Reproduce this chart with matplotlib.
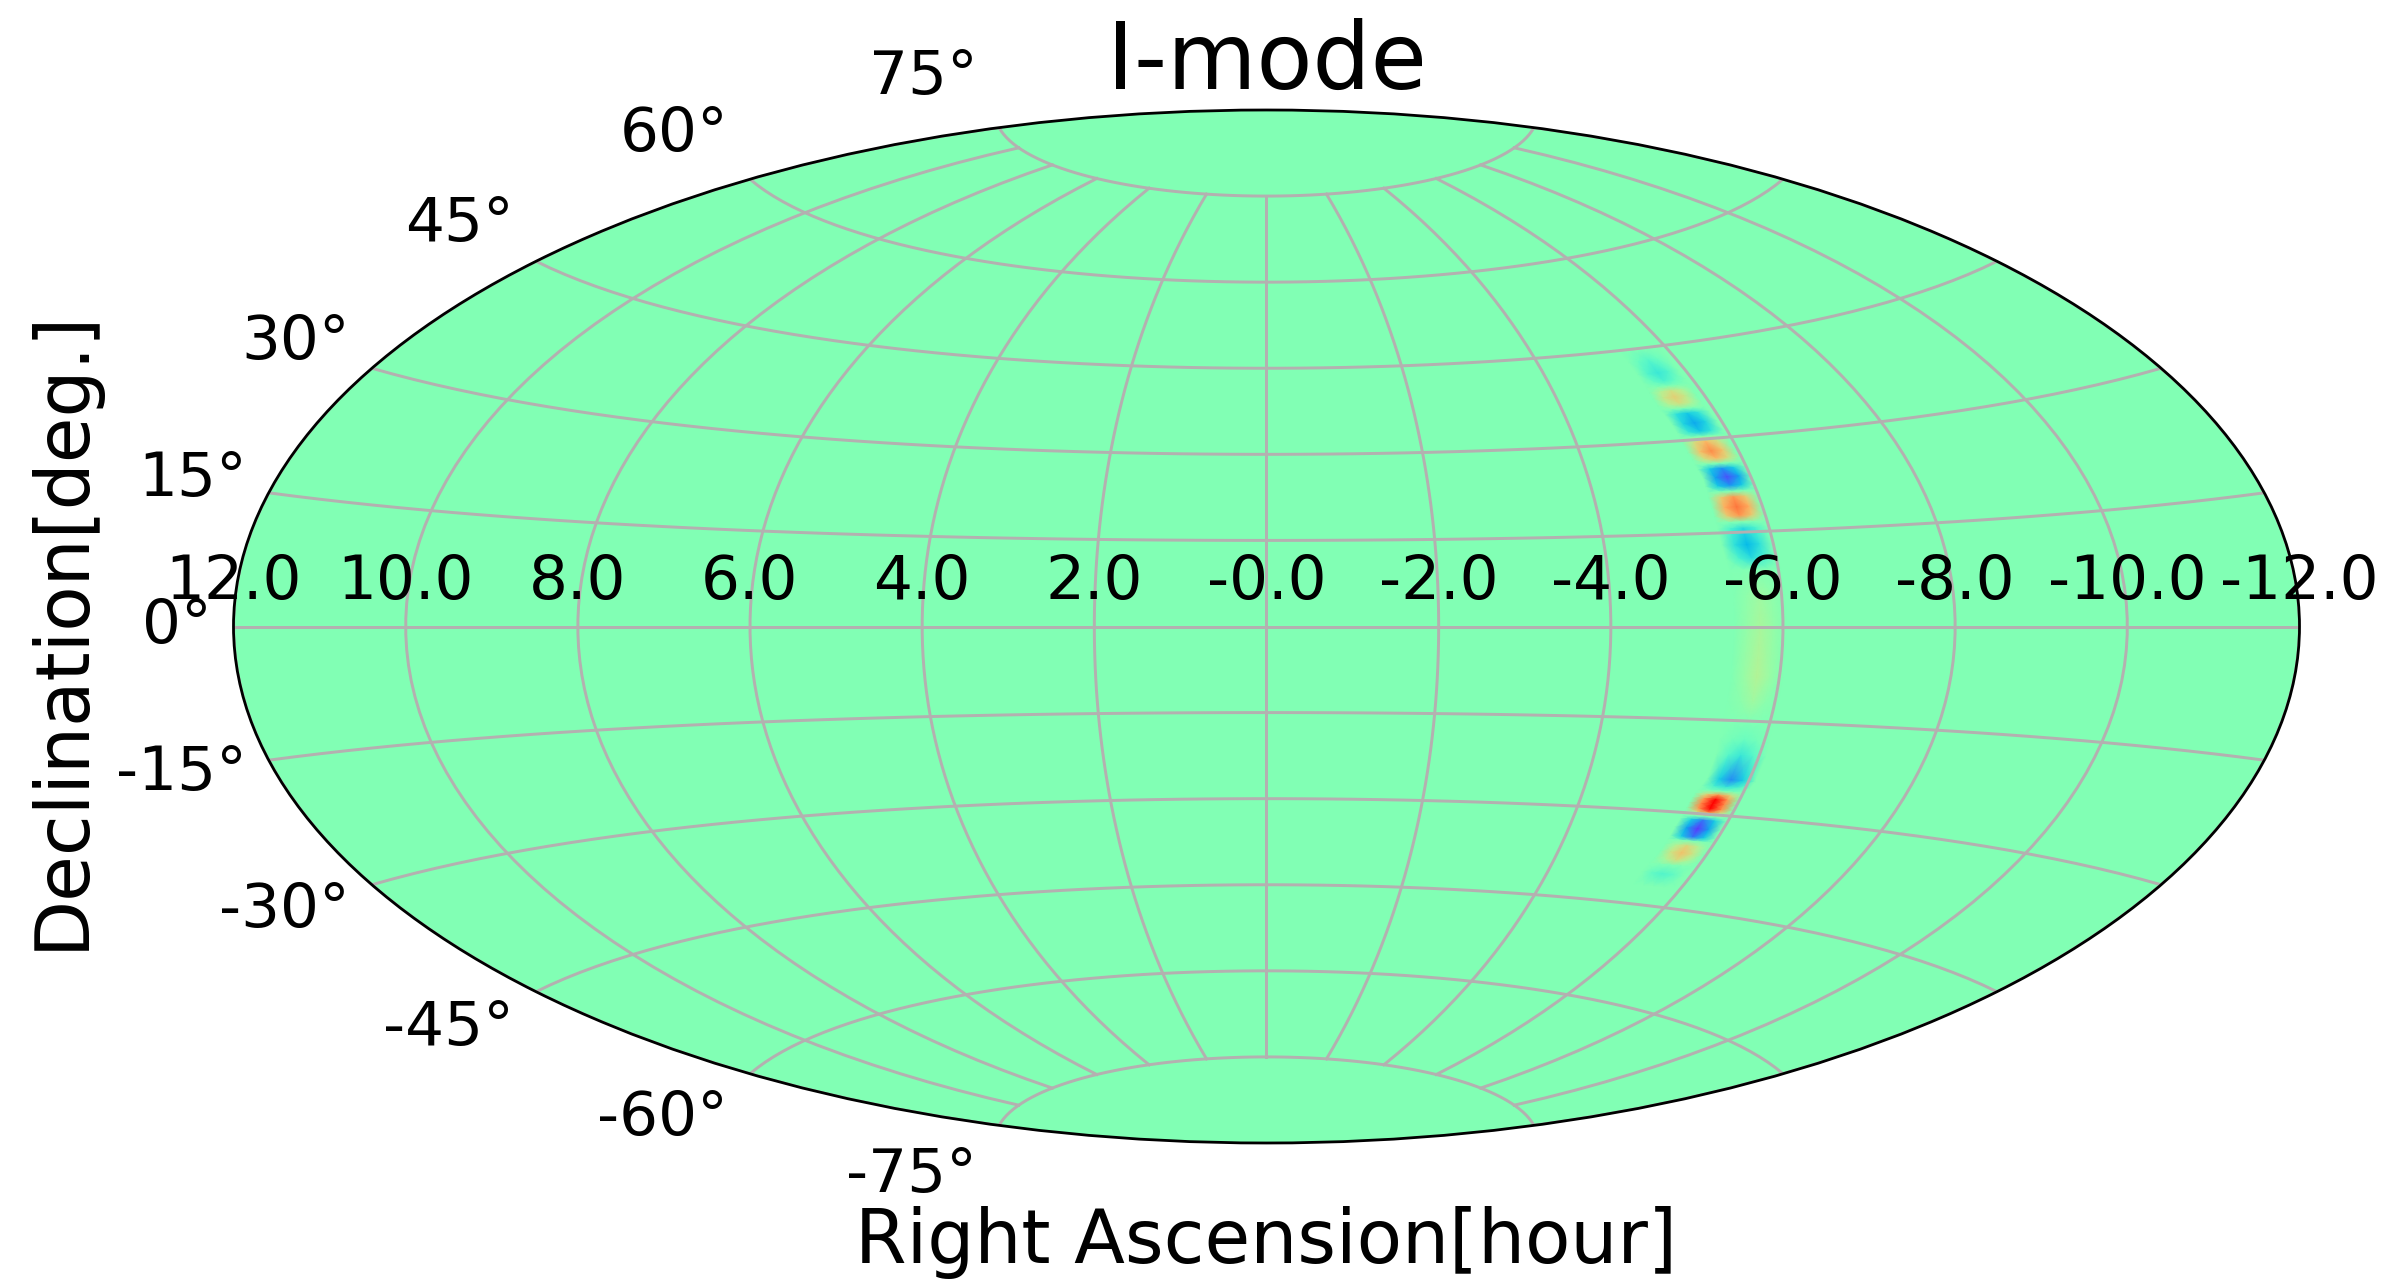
import numpy as np
import matplotlib
matplotlib.use('Agg')
import matplotlib.pyplot as plt
from matplotlib.ticker import FixedLocator, FixedFormatter
from matplotlib.transforms import ScaledTranslation

# right ascension tick labels, left edge to right edge
ra_ticks_deg = [-180, -150, -120, -90, -60, -30, 0, 30, 60, 90, 120, 150, 180]
ra_labels = ['12.0', '10.0', '8.0', '6.0', '4.0', '2.0', '-0.0',
             '-2.0', '-4.0', '-6.0', '-8.0', '-10.0', '-12.0']

# the arc of blobs (top to bottom)
dec_rows = [45.0, 43.0, 40.9, 39.5, 38.7, 37.9, 36.9, 35.8, 35.0, 34.2,
            32.6, 31.2, 30.4, 29.6, 28.0, 26.8, 26.0, 25.2, 23.8, 22.4,
            21.5, 20.6, 19.0, 17.6, 16.6, 15.6, 13.0, 10.8, 9.0, 5.0,
            0.0, -8.0, -12.0, -15.0, -18.0, -20.5, -24.4, -25.6, -26.3, -26.9,
            -27.6, -28.4, -29.2, -29.8, -30.4, -31.0, -32.4, -33.8, -34.4, -35.2,
            -36.4, -37.6, -38.4, -39.9, -41.9]
ra_rows = [5.60, 5.60, 5.60, 5.60, 5.60, 5.60, 5.59, 5.60, 5.60, 5.62,
           5.64, 5.65, 5.65, 5.65, 5.66, 5.68, 5.68, 5.69, 5.71, 5.70,
           5.70, 5.69, 5.69, 5.69, 5.69, 5.69, 5.69, 5.71, 5.73, 5.74,
           5.74, 5.74, 5.74, 5.74, 5.76, 5.78, 5.78, 5.75, 5.73, 5.71,
           5.70, 5.69, 5.69, 5.69, 5.68, 5.68, 5.67, 5.67, 5.67, 5.67,
           5.66, 5.65, 5.62, 5.60, 5.60]
ridge_vals = [0.50, 0.42, 0.36, 0.40, 0.50, 0.66, 0.70, 0.66, 0.50, 0.29,
              0.23, 0.29, 0.50, 0.74, 0.82, 0.74, 0.50, 0.20, 0.10, 0.20,
              0.50, 0.80, 0.85, 0.80, 0.50, 0.33, 0.26, 0.33, 0.50, 0.56,
              0.58, 0.60, 0.56, 0.50, 0.46, 0.36, 0.18, 0.36, 0.50, 0.80,
              1.00, 1.00, 1.00, 0.80, 0.50, 0.16, 0.07, 0.16, 0.50, 0.68,
              0.73, 0.66, 0.50, 0.41, 0.50]
side_vals = [0.50, 0.46, 0.41, 0.45, 0.50, 0.60, 0.64, 0.60, 0.50, 0.35,
             0.31, 0.36, 0.50, 0.66, 0.72, 0.66, 0.50, 0.30, 0.22, 0.30,
             0.50, 0.70, 0.76, 0.70, 0.50, 0.40, 0.34, 0.40, 0.50, 0.53,
             0.54, 0.55, 0.52, 0.50, 0.48, 0.42, 0.30, 0.40, 0.50, 0.68,
             0.80, 0.82, 0.80, 0.64, 0.50, 0.30, 0.22, 0.30, 0.50, 0.60,
             0.65, 0.58, 0.50, 0.44, 0.50]
background = 0.5
ra_offsets = [-0.30, -0.15, 0.0, 0.15, 0.30]

fig = plt.figure(figsize=(9.568, 5.12), dpi=250)
ax = fig.add_axes([233/2392, 1-1143/1280, 2067/2392, 1033/1280], projection='aitoff')
ax.set_facecolor(plt.cm.rainbow(background))

# RA runs the other way on the sky, so -6 h sits on the right
lon = np.array([[r + o for o in ra_offsets] for r in ra_rows]) * 15
lat = np.array([[d] * len(ra_offsets) for d in dec_rows])
z = np.array([[background, s, m, s, background] for m, s in zip(ridge_vals, side_vals)])
ax.pcolormesh(np.radians(lon), np.radians(lat), z, cmap='rainbow', vmin=0, vmax=1, shading='gouraud')

ax.grid(True, color='#b4b0b0', linewidth=0.85)
ax.xaxis.set_major_locator(FixedLocator(np.radians(ra_ticks_deg)))
ax.xaxis.set_major_formatter(FixedFormatter(ra_labels))
ax.tick_params(labelsize=17.7)

# geo axes offset their tick labels in pixels, move them a bit further
for t in ax.xaxis.get_major_ticks():
    t.label1.set_transform(t.label1.get_transform() + ScaledTranslation(0, 3/72, fig.dpi_scale_trans))
for t in ax.yaxis.get_major_ticks():
    t.label1.set_transform(t.label1.get_transform() + ScaledTranslation(-4/72, 0, fig.dpi_scale_trans))

for s in ax.spines.values():
    s.set_linewidth(0.8)

ax.set_title('I-mode', fontsize=26.4)
ax.set_xlabel('Right Ascension[hour]', fontsize=21.4)
ax.set_ylabel('Declination[deg.]', fontsize=21.4)
ax.xaxis.set_label_coords(0.5, -0.061)
ax.yaxis.set_label_coords(-0.065, 0.497)

fig.savefig('out.png', dpi=250)
